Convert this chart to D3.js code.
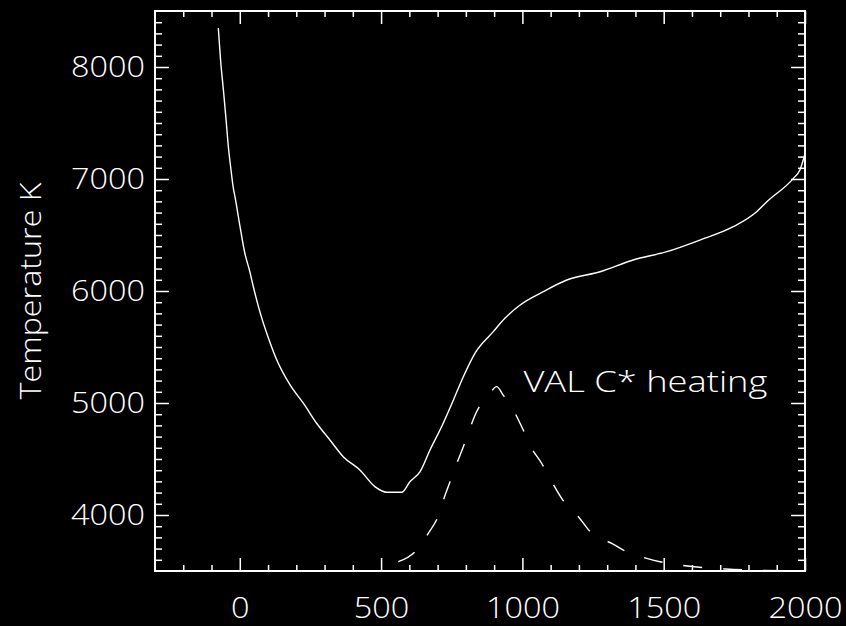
<!DOCTYPE html>
<html>
<head>
<meta charset="utf-8">
<script src="https://cdn.jsdelivr.net/npm/d3@7"></script>
<style>
  html, body { margin: 0; padding: 0; background: #000; }
  svg { display: block; }
  text { font-family: "Open Sans", "Liberation Sans", sans-serif; font-weight: 300; fill: #fff; }
</style>
</head>
<body>
<div id="chart"></div>
<script>
// solid curve: temperature (K) vs height (km)
var heightKm = [-76, -68, -58, -49, -41, -31, -23, -17, -5, 7, 18, 34, 48, 66, 80, 100, 131, 178, 225, 272,
  319, 366, 425, 478, 520, 573, 602, 638, 673, 714, 756, 791, 832, 897, 938, 992, 1074, 1157, 1275, 1392,
  1511, 1628, 1746, 1829, 1865, 1959, 1982, 2000];
var tempK = [8348, 8063, 7795, 7545, 7304, 7080, 6920, 6842, 6663, 6485, 6337, 6188, 6038, 5860, 5740, 5590, 5384, 5161, 4998, 4819,
  4670, 4521, 4402, 4253, 4203, 4203, 4297, 4387, 4580, 4788, 5027, 5235, 5444, 5637, 5756, 5875, 5994, 6098, 6172, 6277,
  6351, 6455, 6574, 6708, 6797, 7006, 7080, 7223];

// dashed curve: VAL C* heating (scaled onto the temperature axis)
var heatKm = [561, 620, 667, 702, 720, 744, 768, 791, 812, 838, 885, 909, 932, 974, 1003, 1033, 1068, 1104, 1139, 1198,
  1245, 1316, 1375, 1440, 1487, 1600, 1720, 1850, 2000];
var heatVal = [3583, 3672, 3837, 3990, 4130, 4297, 4462, 4610, 4759, 4922, 5087, 5146, 5071, 4908, 4759, 4596, 4462, 4297, 4149, 3985,
  3837, 3747, 3663, 3613, 3583, 3540, 3518, 3506, 3500];

var xTicks = [0, 500, 1000, 1500, 2000];
var yTicks = [4000, 5000, 6000, 7000, 8000];
var yLabel = "Temperature K";
var curveLabel = "VAL C* heating";

var W = 846, H = 626;
var margin = {top: 11, right: 41, bottom: 55, left: 155},
  width = W - margin.left - margin.right,
  height = H - margin.top - margin.bottom;

var svg = d3.select("#chart").append("svg")
  .attr("width", W)
  .attr("height", H)
  .style("background", "#000");

var g = svg.append("g")
  .attr("transform", "translate(" + margin.left + "," + margin.top + ")");

var x = d3.scaleLinear().domain([-300, 2000]).range([0, width]);
var y = d3.scaleLinear().domain([3500, 8500]).range([height, 0]);

g.append("clipPath").attr("id", "clip")
  .append("rect").attr("width", width).attr("height", height);

// minor ticks every 100 on all four sides
var xMinor = d3.range(-200, 2000, 100).filter(function(v) { return v % 500 !== 0; });
var yMinor = d3.range(3600, 8500, 100).filter(function(v) { return v % 1000 !== 0; });

function styleAxis(sel) {
  sel.select(".domain").remove();
  sel.selectAll("line").attr("stroke", "#fff").attr("stroke-width", 1.5);
}

g.append("g").attr("transform", "translate(0," + height + ")")
  .call(d3.axisBottom(x).tickValues(xMinor).tickSize(-6).tickFormat(""))
  .call(styleAxis);
g.append("g")
  .call(d3.axisTop(x).tickValues(xMinor).tickSize(-6).tickFormat(""))
  .call(styleAxis);
g.append("g")
  .call(d3.axisLeft(y).tickValues(yMinor).tickSize(-7).tickFormat(""))
  .call(styleAxis);
g.append("g").attr("transform", "translate(" + width + ",0)")
  .call(d3.axisRight(y).tickValues(yMinor).tickSize(-7).tickFormat(""))
  .call(styleAxis);

// major ticks + labels
var xAxis = g.append("g").attr("transform", "translate(0," + height + ")")
  .call(d3.axisBottom(x).tickValues(xTicks).tickSize(-13).tickPadding(26).tickFormat(d3.format("d")))
  .call(styleAxis);
g.append("g")
  .call(d3.axisTop(x).tickValues(xTicks).tickSize(-13).tickFormat(""))
  .call(styleAxis);
var yAxis = g.append("g")
  .call(d3.axisLeft(y).tickValues(yTicks).tickSize(-14).tickPadding(10).tickFormat(d3.format("d")))
  .call(styleAxis);
g.append("g").attr("transform", "translate(" + width + ",0)")
  .call(d3.axisRight(y).tickValues(yTicks).tickSize(-14).tickFormat(""))
  .call(styleAxis);

// the reference font is wide, so stretch the labels a bit
[xAxis, yAxis].forEach(function(a) {
  a.selectAll("text")
    .attr("fill", "#fff")
    .style("font-size", "30px")
    .style("font-family", null)
    .attr("textLength", function() { return 18.5 * this.textContent.length; })
    .attr("lengthAdjust", "spacingAndGlyphs");
});

// frame
g.append("rect")
  .attr("width", width)
  .attr("height", height)
  .attr("fill", "none")
  .attr("stroke", "#fff")
  .attr("stroke-width", 2);

// curves
var tempData = heightKm.map(function(h, i) { return [h, tempK[i]]; });
var heatData = heatKm.map(function(h, i) { return [h, heatVal[i]]; });

var line = d3.line()
  .curve(d3.curveMonotoneX)
  .x(function(d) { return x(d[0]); })
  .y(function(d) { return y(d[1]); });

var lines = g.append("g").attr("clip-path", "url(#clip)");
lines.append("path")
  .datum(tempData)
  .attr("d", line)
  .attr("fill", "none")
  .attr("stroke", "#fff")
  .attr("stroke-width", 1.4);
lines.append("path")
  .datum(heatData)
  .attr("d", line)
  .attr("fill", "none")
  .attr("stroke", "#fff")
  .attr("stroke-width", 1.4)
  .attr("stroke-dasharray", "19,21");

// curve label
g.append("text")
  .attr("x", x(1000) + 1)
  .attr("y", y(5000) - 11)
  .style("font-size", "30px")
  .attr("textLength", 244)
  .attr("lengthAdjust", "spacingAndGlyphs")
  .text(curveLabel);

// y axis title
svg.append("text")
  .attr("transform", "translate(41," + (margin.top + height / 2) + ") rotate(-90)")
  .attr("text-anchor", "middle")
  .style("font-size", "30px")
  .attr("textLength", 217)
  .attr("lengthAdjust", "spacingAndGlyphs")
  .text(yLabel);
</script>
</body>
</html>
